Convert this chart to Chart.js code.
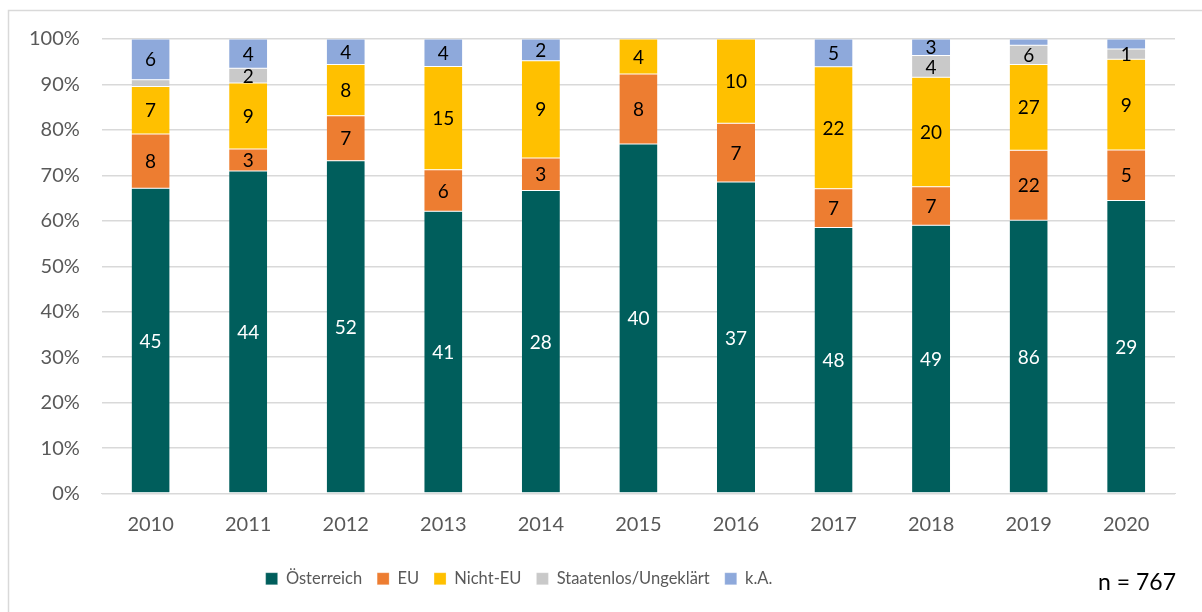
<!DOCTYPE html>
<html>
<head>
<meta charset="utf-8">
<script src="https://cdn.jsdelivr.net/npm/chart.js@4"></script>
<style>
html,body{margin:0;padding:0;background:#fff;}
#wrap{position:relative;width:1202px;height:612px;}
</style>
</head>
<body>
<div id="wrap"><canvas id="c" width="1202" height="612"></canvas></div>
<script>
const years=['2010','2011','2012','2013','2014','2015','2016','2017','2018','2019','2020'];
const oesterreich=[45,44,52,41,28,40,37,48,49,86,29];
const eu=[8,3,7,6,3,8,7,7,7,22,5];
const nichtEu=[7,9,8,15,9,4,10,22,20,27,9];
const staatenlos=[1,2,0,0,0,0,0,0,4,6,1];
const kA=[6,4,4,4,2,0,0,5,3,2,1];
// labels that are not shown in the original (dataset index, year index)
const hiddenLabels=[[3,0],[4,9],[4,10]];
const nTotal='n = 767';

const FONT='Lato, "Open Sans", sans-serif';
const series=[
{label:'Österreich',data:oesterreich,color:'#005E5C',text:'#fff'},
{label:'EU',data:eu,color:'#ED7D31',text:'#000'},
{label:'Nicht-EU',data:nichtEu,color:'#FFC000',text:'#000'},
{label:'Staatenlos/Ungeklärt',data:staatenlos,color:'#C9C9C9',text:'#000'},
{label:'k.A.',data:kA,color:'#8EA9DB',text:'#000'}
];
const totals=years.map((y,i)=>series.reduce((s,d)=>s+d.data[i],0));

const frame={
id:'frame',
afterLayout(chart){
// legend sits left of centre in the original
const L=chart.legend;
const dx=-72,dy=0;
L.left+=dx;L.right+=dx;L.top+=dy;L.bottom+=dy;
},
beforeDraw(chart){
const ctx=chart.ctx;
ctx.save();
ctx.strokeStyle='#d9d9d9';ctx.lineWidth=1.5;
ctx.beginPath();ctx.moveTo(8.5,612);ctx.lineTo(8.5,10.5);ctx.lineTo(1202,10.5);ctx.stroke();
ctx.restore();
},
afterDatasetsDraw(chart){
const ctx=chart.ctx;
ctx.save();
ctx.font='19px '+FONT;
ctx.textAlign='center';ctx.textBaseline='middle';
chart.data.datasets.forEach((ds,di)=>{
const meta=chart.getDatasetMeta(di);
meta.data.forEach((el,i)=>{
const v=series[di].data[i];
if(!v)return;
if(hiddenLabels.some(h=>h[0]===di&&h[1]===i))return;
const p=el.getProps(['x','y','base'],true);
ctx.fillStyle=series[di].text;
ctx.fillText(String(v),p.x,(p.y+p.base)/2+1);
});
});
ctx.font='23px '+FONT;
ctx.fillStyle='#000';ctx.textAlign='right';
ctx.fillText(nTotal,1176,583);
ctx.restore();
}
};

new Chart(document.getElementById('c'),{
type:'bar',
data:{labels:years,datasets:series.map(s=>({
label:s.label,
data:s.data.map((v,i)=>v/totals[i]*100),
backgroundColor:s.color,
borderColor:'#fff',borderWidth:{top:0.5,bottom:0.5,left:0,right:0},borderSkipped:false,
categoryPercentage:1,barPercentage:0.39
}))},
options:{
responsive:false,animation:false,
layout:{padding:{top:39,right:27,bottom:15,left:7}},
scales:{
x:{stacked:true,grid:{display:false,drawTicks:false},border:{color:'#d9d9d9'},
ticks:{color:'#595959',font:{size:20,family:FONT},padding:19}},
y:{stacked:true,min:0,max:100,
ticks:{stepSize:10,color:'#595959',font:{size:20,family:FONT},padding:22,callback:v=>v+'%'},
grid:{color:'#d9d9d9',drawTicks:false,lineWidth:1.5},border:{display:false}}
},
plugins:{
legend:{position:'bottom',labels:{boxWidth:12,boxHeight:12,padding:15,color:'#595959',font:{size:16.5,family:FONT}}},
tooltip:{enabled:false}
}
},
plugins:[frame]
});
</script>
</body>
</html>
